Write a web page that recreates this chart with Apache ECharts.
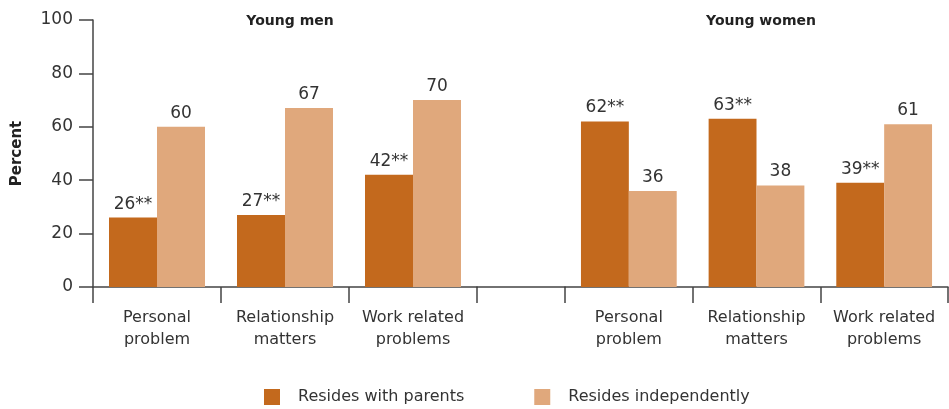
<!DOCTYPE html>
<html>
<head>
<meta charset="utf-8">
<script src="https://cdn.jsdelivr.net/npm/echarts@6/dist/echarts.min.js"></script>
<style>
  html, body { margin: 0; padding: 0; background: #fff; }
  #chart { width: 949px; height: 409px; }
</style>
</head>
<body>
<div id="chart"></div>
<script>
const categories = ['Personal\nproblem', 'Relationship\nmatters', 'Work related\nproblems'];
const menWithParents = [26, 27, 42];
const menIndependent = [60, 67, 70];
const womenWithParents = [62, 63, 39];
const womenIndependent = [36, 38, 61];
const yTicks = [0, 20, 40, 60, 80, 100];

const darkColor = '#C3691D';
const lightColor = '#E0A87C';
const textColor = '#333';
const fontFamily = '"DejaVu Sans", sans-serif';

function xAxisFor(gridIndex, data) {
    return {
        type: 'category',
        gridIndex: gridIndex,
        data: data,
        axisLine: { lineStyle: { color: '#444', width: 1.5 } },
        axisTick: { show: true, length: 16, lineStyle: { color: '#444', width: 1.5 } },
        axisLabel: { color: textColor, fontSize: 16, lineHeight: 22, margin: 20, fontFamily: fontFamily, interval: 0 }
    };
}

function yAxisFor(gridIndex, visible) {
    return {
        type: 'value',
        gridIndex: gridIndex,
        min: yTicks[0],
        max: yTicks[yTicks.length - 1],
        interval: 20,
        show: visible,
        name: visible ? 'Percent' : '',
        nameLocation: 'middle',
        nameRotate: 90,
        nameGap: 68,
        nameTextStyle: { color: '#222', fontSize: 15, fontWeight: 'bold', fontFamily: fontFamily },
        splitLine: { show: false },
        axisLine: { show: true, lineStyle: { color: '#444', width: 1.5 } },
        axisTick: { show: true, length: 14, lineStyle: { color: '#444', width: 1.5 } },
        axisLabel: { color: textColor, fontSize: 17, margin: 20, fontFamily: fontFamily }
    };
}

function barSeries(name, color, data, axisIndex, stars) {
    return {
        name: name,
        type: 'bar',
        xAxisIndex: axisIndex,
        yAxisIndex: axisIndex,
        data: data,
        barGap: '0%',
        barCategoryGap: '25%',
        itemStyle: { color: color },
        label: {
            show: true,
            position: 'top',
            distance: 5,
            color: textColor,
            fontSize: 17,
            fontFamily: fontFamily,
            formatter: stars ? '{c}**' : '{c}'
        }
    };
}

const chart = echarts.init(document.getElementById('chart'));
chart.setOption({
    animation: false,
    textStyle: { fontFamily: fontFamily },
    title: [
        { text: 'Young men', left: 285, top: 9, textAlign: 'center',
          textStyle: { fontSize: 14, fontWeight: 'bold', color: '#222', fontFamily: fontFamily } },
        { text: 'Young women', left: 756, top: 9, textAlign: 'center',
          textStyle: { fontSize: 14, fontWeight: 'bold', color: '#222', fontFamily: fontFamily } }
    ],
    legend: {
        left: 264,
        top: 389,
        padding: 0,
        itemWidth: 16,
        itemHeight: 16,
        itemGap: 70,
        icon: 'rect',
        formatter: function (name) { return '{t|' + name + '}'; },
        textStyle: {
            color: textColor, fontSize: 16, fontFamily: fontFamily,
            rich: { t: { fontSize: 16, color: textColor, fontFamily: fontFamily, padding: [0, 0, 0, 13] } }
        },
        data: ['Resides with parents', 'Resides independently']
    },
    grid: [
        { left: 93, top: 20, width: 384, bottom: 122 },
        { left: 477, top: 20, width: 88, bottom: 122 },
        { left: 565, top: 20, width: 383, bottom: 122 }
    ],
    xAxis: [
        xAxisFor(0, categories),
        xAxisFor(1, ['']),
        xAxisFor(2, categories)
    ],
    yAxis: [
        yAxisFor(0, true),
        yAxisFor(1, false),
        yAxisFor(2, false)
    ],
    series: [
        barSeries('Resides with parents', darkColor, menWithParents, 0, true),
        barSeries('Resides independently', lightColor, menIndependent, 0, false),
        barSeries('Resides with parents', darkColor, womenWithParents, 2, true),
        barSeries('Resides independently', lightColor, womenIndependent, 2, false)
    ]
});
</script>
</body>
</html>
